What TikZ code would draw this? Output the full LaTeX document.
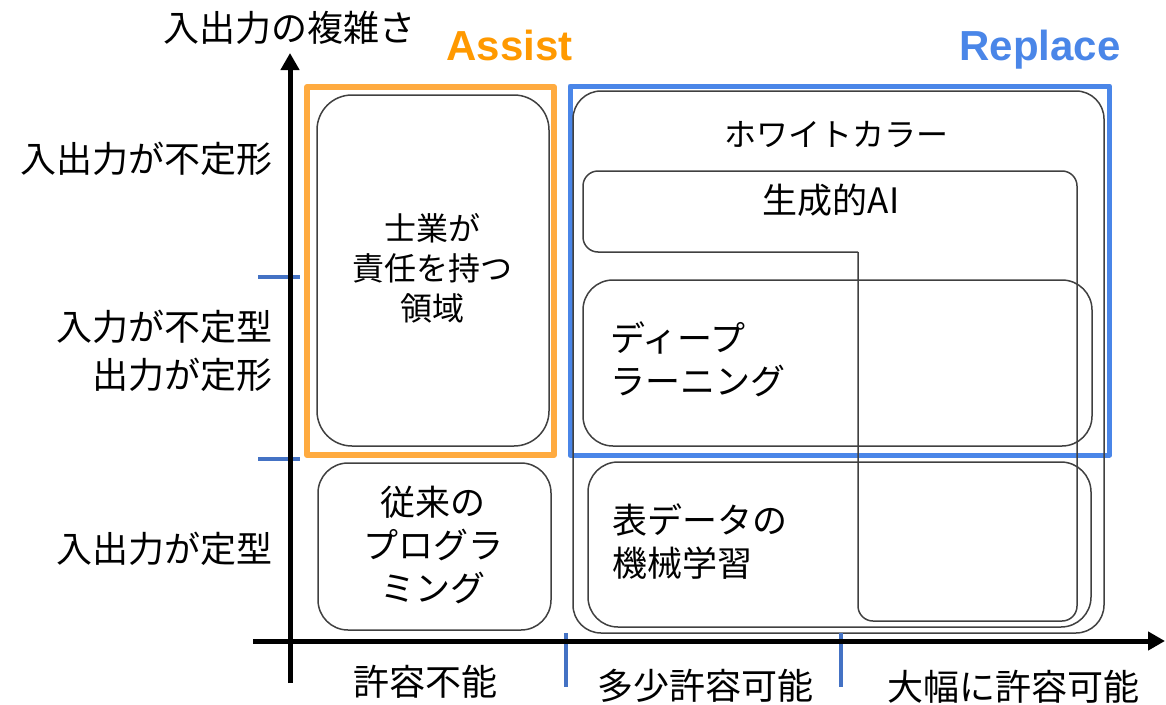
\documentclass[tikz,border=0pt]{standalone}
\usepackage{fontspec}
\newfontfamily\jp{Noto Sans CJK JP}
\newfontfamily\arl{Liberation Sans}
\usetikzlibrary{arrows.meta}
\definecolor{boxgray}{HTML}{404040}
\definecolor{assistor}{HTML}{FF9900}
\definecolor{frameor}{HTML}{FFAB40}
\definecolor{repblue}{HTML}{4A86E8}
\definecolor{tickblue}{HTML}{4472C4}
\tikzset{
  axisline/.style={line width=5pt, draw=black, -{Triangle[length=17pt,width=18pt]}},
  tickmark/.style={line width=4pt, draw=tickblue},
  frame/.style={rectangle, line width=#1, line join=round, inner sep=0pt, outer sep=0pt},
  box/.style={rectangle, draw=boxgray, line width=1.5pt, inner sep=0pt, outer sep=0pt},
  lab/.style={font=\jp\fontsize{36}{48}\selectfont, inner sep=0pt, text=black},
  boxtxt/.style={font=\jp\fontsize{35}{43}\selectfont, inner sep=0pt, text=black},
  smalltxt/.style={font=\jp\fontsize{32}{40}\selectfont, inner sep=0pt, text=black},
  headA/.style={font=\arl\bfseries\fontsize{42}{50}\selectfont, inner sep=0pt, anchor=base},
}
\begin{document}
\begin{tikzpicture}[x=1pt,y=-1pt]
\useasboundingbox (0,0) rectangle (1166,704);

% frames
\node[frame=6pt, draw=frameor, minimum width=247pt, minimum height=368pt] (assistframe) at (430.5,271) {};
\node[frame=5pt, draw=repblue, minimum width=539.5pt, minimum height=369pt] (replaceframe) at (839.75,270.5) {};
\node[headA, text=assistor] (assistlab) at (509.5,60) {Assist};
\node[headA, text=repblue] (replacelab) at (1040,60) {Replace};

% boxes on the left
\node[box, rounded corners=35pt, minimum width=232pt, minimum height=351pt] (shigyo) at (433,270.5) {};
\node[smalltxt, align=center] (shigyotxt) at (432,268) {士業が\\責任を持つ\\領域};
\node[box, rounded corners=30pt, minimum width=233pt, minimum height=167pt] (conv) at (434.5,546.5) {};
\node[boxtxt, align=center] (convtxt) at (433,545) {従来の\\プログラ\\ミング};

% white collar
\node[box, rounded corners=28pt, minimum width=531pt, minimum height=542pt] (wc) at (838.5,362) {};
\node[smalltxt] (wctxt) at (836,135) {ホワイトカラー};

% generative AI (L shape)
\coordinate (g1) at (858,252);
\coordinate (g2) at (583,252);
\coordinate (g3) at (583,171);
\coordinate (g4) at (1077,171);
\coordinate (g5) at (1077,621);
\coordinate (g6) at (858,621);
\draw[draw=boxgray, line width=1.5pt, rounded corners=15pt] (g1) -- (g2) -- (g3) -- (g4) -- (g5) -- (g6) -- (g1);
\node[boxtxt] (gentxt) at (831,200) {生成的AI};

% deep learning
\node[box, rounded corners=30pt, minimum width=509pt, minimum height=166pt] (deep) at (837.5,363) {};
\node[boxtxt, align=left, anchor=west] (deeptxt) at (610,359.5) {ディープ\\ラーニング};

% tabular ML
\node[box, rounded corners=30pt, minimum width=503pt, minimum height=165pt] (tab) at (839.5,544.5) {};
\node[boxtxt, align=left, anchor=west] (tabtxt) at (612,541.5) {表データの\\機械学習};

% ticks
\coordinate (ty1a) at (258,277); \coordinate (ty1b) at (300,277);
\coordinate (ty2a) at (258,459); \coordinate (ty2b) at (300,459);
\coordinate (tx1a) at (566,633); \coordinate (tx1b) at (566,687);
\coordinate (tx2a) at (841,633); \coordinate (tx2b) at (841,687);
\draw[tickmark] (ty1a) -- (ty1b);
\draw[tickmark] (ty2a) -- (ty2b);
\draw[tickmark] (tx1a) -- (tx1b);
\draw[tickmark] (tx2a) -- (tx2b);

% axes
\coordinate (ybot) at (290,683);
\coordinate (ytop) at (290,53);
\coordinate (xleft) at (253,641);
\coordinate (xright) at (1165,641);
\draw[axisline] (ybot) -- (ytop);
\draw[axisline] (xleft) -- (xright);

% axis labels
\node[lab] (ytitle) at (289.5,28) {入出力の複雑さ};
\node[lab, anchor=east] (yl1) at (273,159) {入出力が不定形};
\node[lab, anchor=east, align=right] (yl2) at (273,351) {入力が不定型\\出力が定形};
\node[lab, anchor=east] (yl3) at (273,549) {入出力が定型};
\node[lab] (xl1) at (425.5,682) {許容不能};
\node[lab] (xl2) at (705,686) {多少許容可能};
\node[lab] (xl3) at (1013,687) {大幅に許容可能};
\end{tikzpicture}
\end{document}
